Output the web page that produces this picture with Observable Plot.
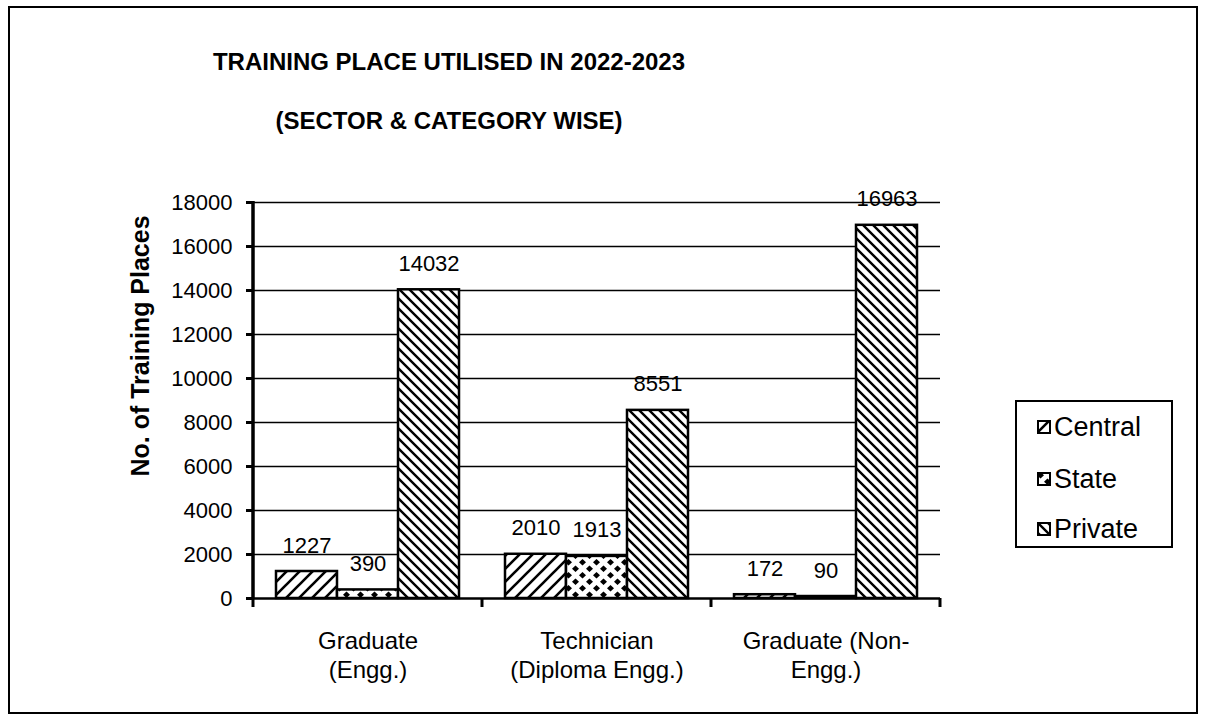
<!DOCTYPE html>
<html>
<head>
<meta charset="utf-8">
<script src="https://cdn.jsdelivr.net/npm/d3@7"></script>
<script src="https://cdn.jsdelivr.net/npm/@observablehq/plot@0.6"></script>
<style>
  html, body { margin: 0; padding: 0; background: #fff; }
  #page { position: relative; width: 1223px; height: 721px; background: #fff; overflow: hidden;
          font-family: "Liberation Sans", Arial, sans-serif; color: #000; }
  #border { position: absolute; left: 8px; top: 6px; width: 1186px; height: 704px; border: 2px solid #000; }
  .title { position: absolute; left: 0; width: 898px; text-align: center; font-weight: bold; font-size: 24px; line-height: 30px; }
  #ylabel { position: absolute; left: 140px; top: 346px; transform: translate(-50%, -50%) rotate(-90deg);
            font-weight: bold; font-size: 25px; white-space: nowrap; }
  #legend { position: absolute; left: 1015px; top: 400px; width: 154px; height: 144px; border: 2.5px solid #000; background: #fff; }
  .item { position: absolute; left: 20px; height: 30px; display: flex; align-items: center; font-size: 27px; }
  .item svg { margin-right: 3px; }
  #chart { position: absolute; left: 0; top: 0; }
</style>
</head>
<body>
<svg width="0" height="0" style="position:absolute">
  <defs>
    <pattern id="pat-central" patternUnits="userSpaceOnUse" width="13" height="13">
      <rect width="13" height="13" fill="#fff"/>
      <path d="M-2,2 L2,-2 M0,13 L13,0 M11,15 L15,11" stroke="#000" stroke-width="2.6"/>
    </pattern>
    <pattern id="pat-state" patternUnits="userSpaceOnUse" width="14" height="13">
      <rect width="14" height="13" fill="#fff"/>
      <path d="M3.5,0 L7,3.25 L3.5,6.5 L0,3.25 Z M10.5,6.5 L14,9.75 L10.5,13 L7,9.75 Z" fill="#000"/>
    </pattern>
    <pattern id="pat-private" patternUnits="userSpaceOnUse" width="10" height="10">
      <rect width="10" height="10" fill="#fff"/>
      <path d="M-2,8 L2,12 M0,0 L10,10 M8,-2 L12,2" stroke="#000" stroke-width="2.4"/>
    </pattern>
  </defs>
</svg>
<div id="page">
  <div id="border"></div>
  <div id="chart"></div>
  <div class="title" style="top:47px">TRAINING PLACE UTILISED IN 2022-2023</div>
  <div class="title" style="top:106px">(SECTOR &amp; CATEGORY WISE)</div>
  <div id="ylabel">No. of Training Places</div>
  <div id="legend"></div>
</div>
<script>
// ---- data ----
const categories = ["Graduate\n(Engg.)", "Technician\n(Diploma Engg.)", "Graduate (Non-\nEngg.)"];
const series = ["Central", "State", "Private"];
const centralValues = [1227, 2010, 172];
const stateValues = [390, 1913, 90];
const privateValues = [14032, 8551, 16963];
const yTicks = [0, 2000, 4000, 6000, 8000, 10000, 12000, 14000, 16000, 18000];
const patternFills = ["url(#pat-central)", "url(#pat-state)", "url(#pat-private)"];

const valuesBySeries = [centralValues, stateValues, privateValues];
const data = categories.flatMap((c, i) =>
  series.map((s, j) => ({category: c, series: s, value: valuesBySeries[j][i]})));

const plot = Plot.plot({
  width: 1223,
  height: 721,
  marginLeft: 253,
  marginRight: 283,
  marginTop: 202,
  marginBottom: 123,
  style: {fontFamily: "'Liberation Sans', Arial, sans-serif", fontSize: "22px", color: "#000", background: "transparent", overflow: "visible"},
  fx: {domain: categories, padding: 0, axis: null, label: null},
  x: {domain: series, paddingInner: 0, paddingOuter: 0.35, axis: null, label: null},
  y: {domain: [0, 18000], ticks: yTicks, tickFormat: "d", tickSize: 7, tickPadding: 14, label: null},
  color: {domain: series, range: patternFills},
  marks: [
    Plot.gridY(yTicks.filter(t => t > 0), {stroke: "#000", strokeOpacity: 1, strokeWidth: 1.4}),
    Plot.barY(data, {fx: "category", x: "series", y: "value", fill: "series", stroke: "#000", strokeWidth: 2.5}),
    Plot.text(data, {fx: "category", x: "series", y: "value", text: d => String(d.value), dy: -26, fontSize: 22, fill: "#000"}),
    Plot.ruleY([0], {stroke: "#000", strokeWidth: 2.5}),
    Plot.text(categories, {fx: d => d, text: d => d, frameAnchor: "bottom", lineAnchor: "top", lineHeight: 1.2, dy: 30, fontSize: 24, fill: "#000"})
  ]
});
document.getElementById("chart").appendChild(plot);

// axis decorations derived from the plot's own scales
const fxS = plot.scale("fx");
const yS = plot.scale("y");
const svg = d3.select(plot);
const x0 = fxS.apply(categories[0]);
const xEnd = fxS.apply(categories[categories.length - 1]) + fxS.bandwidth;
const yBase = yS.apply(0);
const yTop = yS.apply(yS.domain[1]);
const deco = svg.append("g").attr("stroke", "#000");
deco.append("line").attr("x1", x0).attr("x2", x0).attr("y1", yTop - 1).attr("y2", yBase + 1).attr("stroke-width", 3.5);
const bounds = categories.map(c => fxS.apply(c)).concat([xEnd]);
bounds.forEach(bx => deco.append("line").attr("x1", bx).attr("x2", bx).attr("y1", yBase).attr("y2", yBase + 9).attr("stroke-width", 3));
svg.selectAll('g[aria-label="y-axis tick"] path, g[aria-label="y-axis tick"]').attr("stroke-width", 3);

// legend
const legend = document.getElementById("legend");
const legendTops = [10, 62, 112];
series.forEach((s, i) => {
  const item = document.createElement("div");
  item.className = "item";
  item.style.top = legendTops[i] + "px";
  item.innerHTML = `<svg width="14" height="14"><rect x="1" y="1" width="12" height="12" fill="${patternFills[i]}" stroke="#000" stroke-width="2"/></svg><span>${s}</span>`;
  legend.appendChild(item);
});
</script>
</body>
</html>
